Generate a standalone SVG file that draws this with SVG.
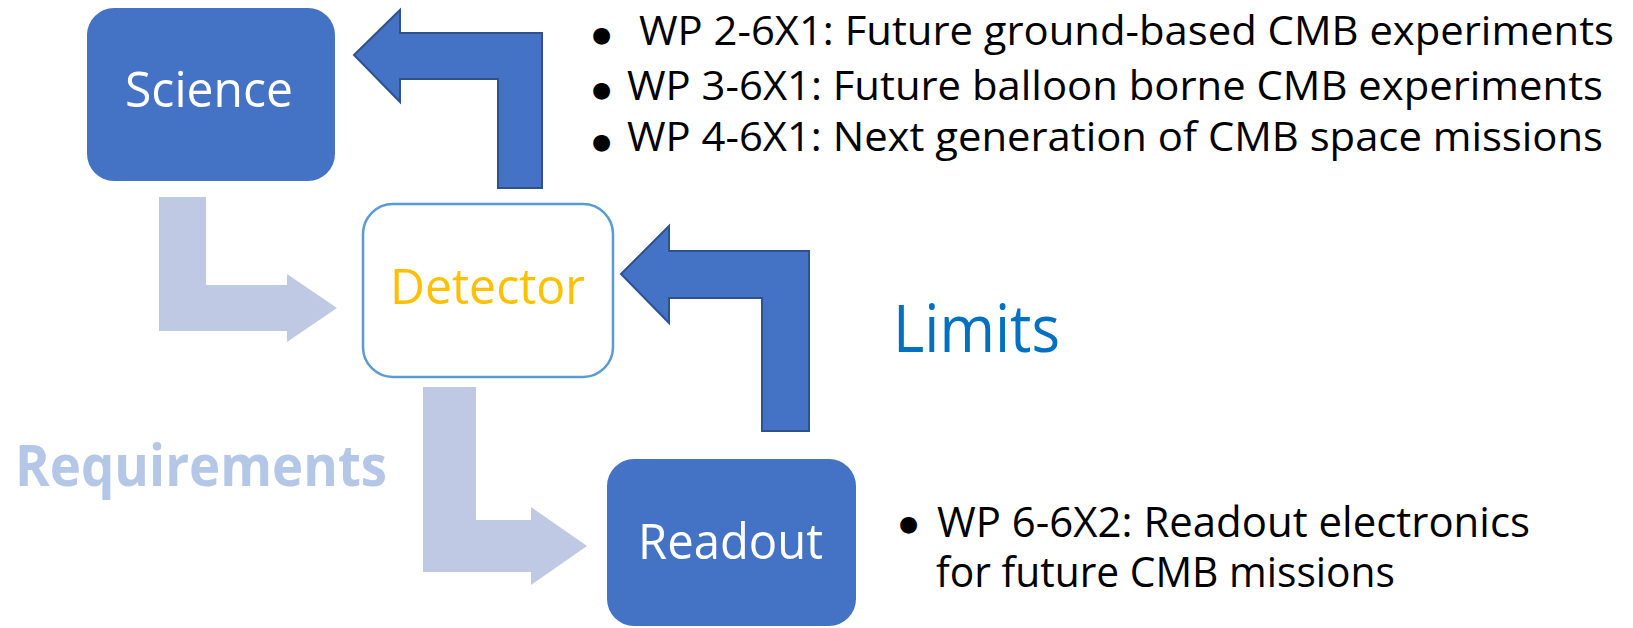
<svg xmlns="http://www.w3.org/2000/svg" width="1633" height="628" viewBox="0 0 1633 628">
  <style>
    .box { fill: #4472C4; }
    .boxtxt { font-family: "Open Sans", "Noto Sans", sans-serif; font-size: 49px; fill: #FFFFFF; }
    .dark { fill: #4472C4; stroke: #2F528F; stroke-width: 2; stroke-linejoin: miter; }
    .light { fill: #BFC9E4; }
    .bul { font-family: "Open Sans", "Noto Sans", sans-serif; font-size: 41px; fill: #000000; }
    .bul2 { font-family: "Open Sans", "Noto Sans", sans-serif; font-size: 42px; fill: #000000; }
    .dot { font-family: "DejaVu Sans", sans-serif; font-size: 22px; fill: #000000; }
  </style>
  <rect width="1633" height="628" fill="#FFFFFF"/>

  <g id="connectors">
    <path class="light" d="M159,197 L206,197 L206,285 L287,285 L287,274 L337,308 L287,342 L287,331 L159,331 Z"/>
    <path class="light" d="M423,387 L476,387 L476,520 L531,520 L531,507 L587,546 L531,585 L531,572 L423,572 Z"/>
    <path class="dark" d="M354,55 L400,10 L400,33 L542,33 L542,188 L498,188 L498,79 L400,79 L400,102 Z"/>
    <path class="dark" d="M621,274 L669,226 L669,251 L809,251 L809,431 L762,431 L762,298 L669,298 L669,323 Z"/>
  </g>

  <g id="science">
    <rect class="box" x="87" y="8" width="248" height="173" rx="27" ry="27"/>
    <text class="boxtxt" x="125" y="107" textLength="168" lengthAdjust="spacingAndGlyphs">Science</text>
  </g>

  <g id="detector">
    <rect x="363" y="204" width="250" height="173" rx="30" ry="30" fill="#FFFFFF" stroke="#5B9BD5" stroke-width="2.5"/>
    <text class="boxtxt" x="390" y="304" style="fill:#FFC000" textLength="195" lengthAdjust="spacingAndGlyphs">Detector</text>
  </g>

  <g id="readout">
    <rect class="box" x="607" y="459" width="249" height="167" rx="27" ry="27"/>
    <text class="boxtxt" x="638" y="559" textLength="185" lengthAdjust="spacingAndGlyphs">Readout</text>
  </g>

  <g id="labels">
    <text x="893" y="352" font-family="'Open Sans', 'Noto Sans', sans-serif" font-size="66" fill="#0070C0" textLength="167" lengthAdjust="spacingAndGlyphs">Limits</text>
    <text x="15" y="486" font-family="'Open Sans', 'Noto Sans', sans-serif" font-size="57" font-weight="bold" fill="#B4C7E7" textLength="372" lengthAdjust="spacingAndGlyphs">Requirements</text>
  </g>

  <g id="wp-list">
    <text class="dot" x="592" y="42">●</text>
    <text class="dot" x="592" y="97">●</text>
    <text class="dot" x="592" y="149">●</text>
    <text class="bul">
      <tspan x="639" y="45" textLength="975" lengthAdjust="spacingAndGlyphs">WP 2-6X1: Future ground-based CMB experiments</tspan>
      <tspan x="627" y="100" textLength="976" lengthAdjust="spacingAndGlyphs">WP 3-6X1: Future balloon borne CMB experiments</tspan>
      <tspan x="627" y="151" textLength="976" lengthAdjust="spacingAndGlyphs">WP 4-6X1: Next generation of CMB space missions</tspan>
    </text>
  </g>

  <g id="readout-list">
    <text class="dot" x="899" y="531">●</text>
    <text class="bul2">
      <tspan x="937" y="537" textLength="593" lengthAdjust="spacingAndGlyphs">WP 6-6X2: Readout electronics</tspan>
      <tspan x="936" y="587" textLength="459" lengthAdjust="spacingAndGlyphs">for future CMB missions</tspan>
    </text>
  </g>
</svg>
